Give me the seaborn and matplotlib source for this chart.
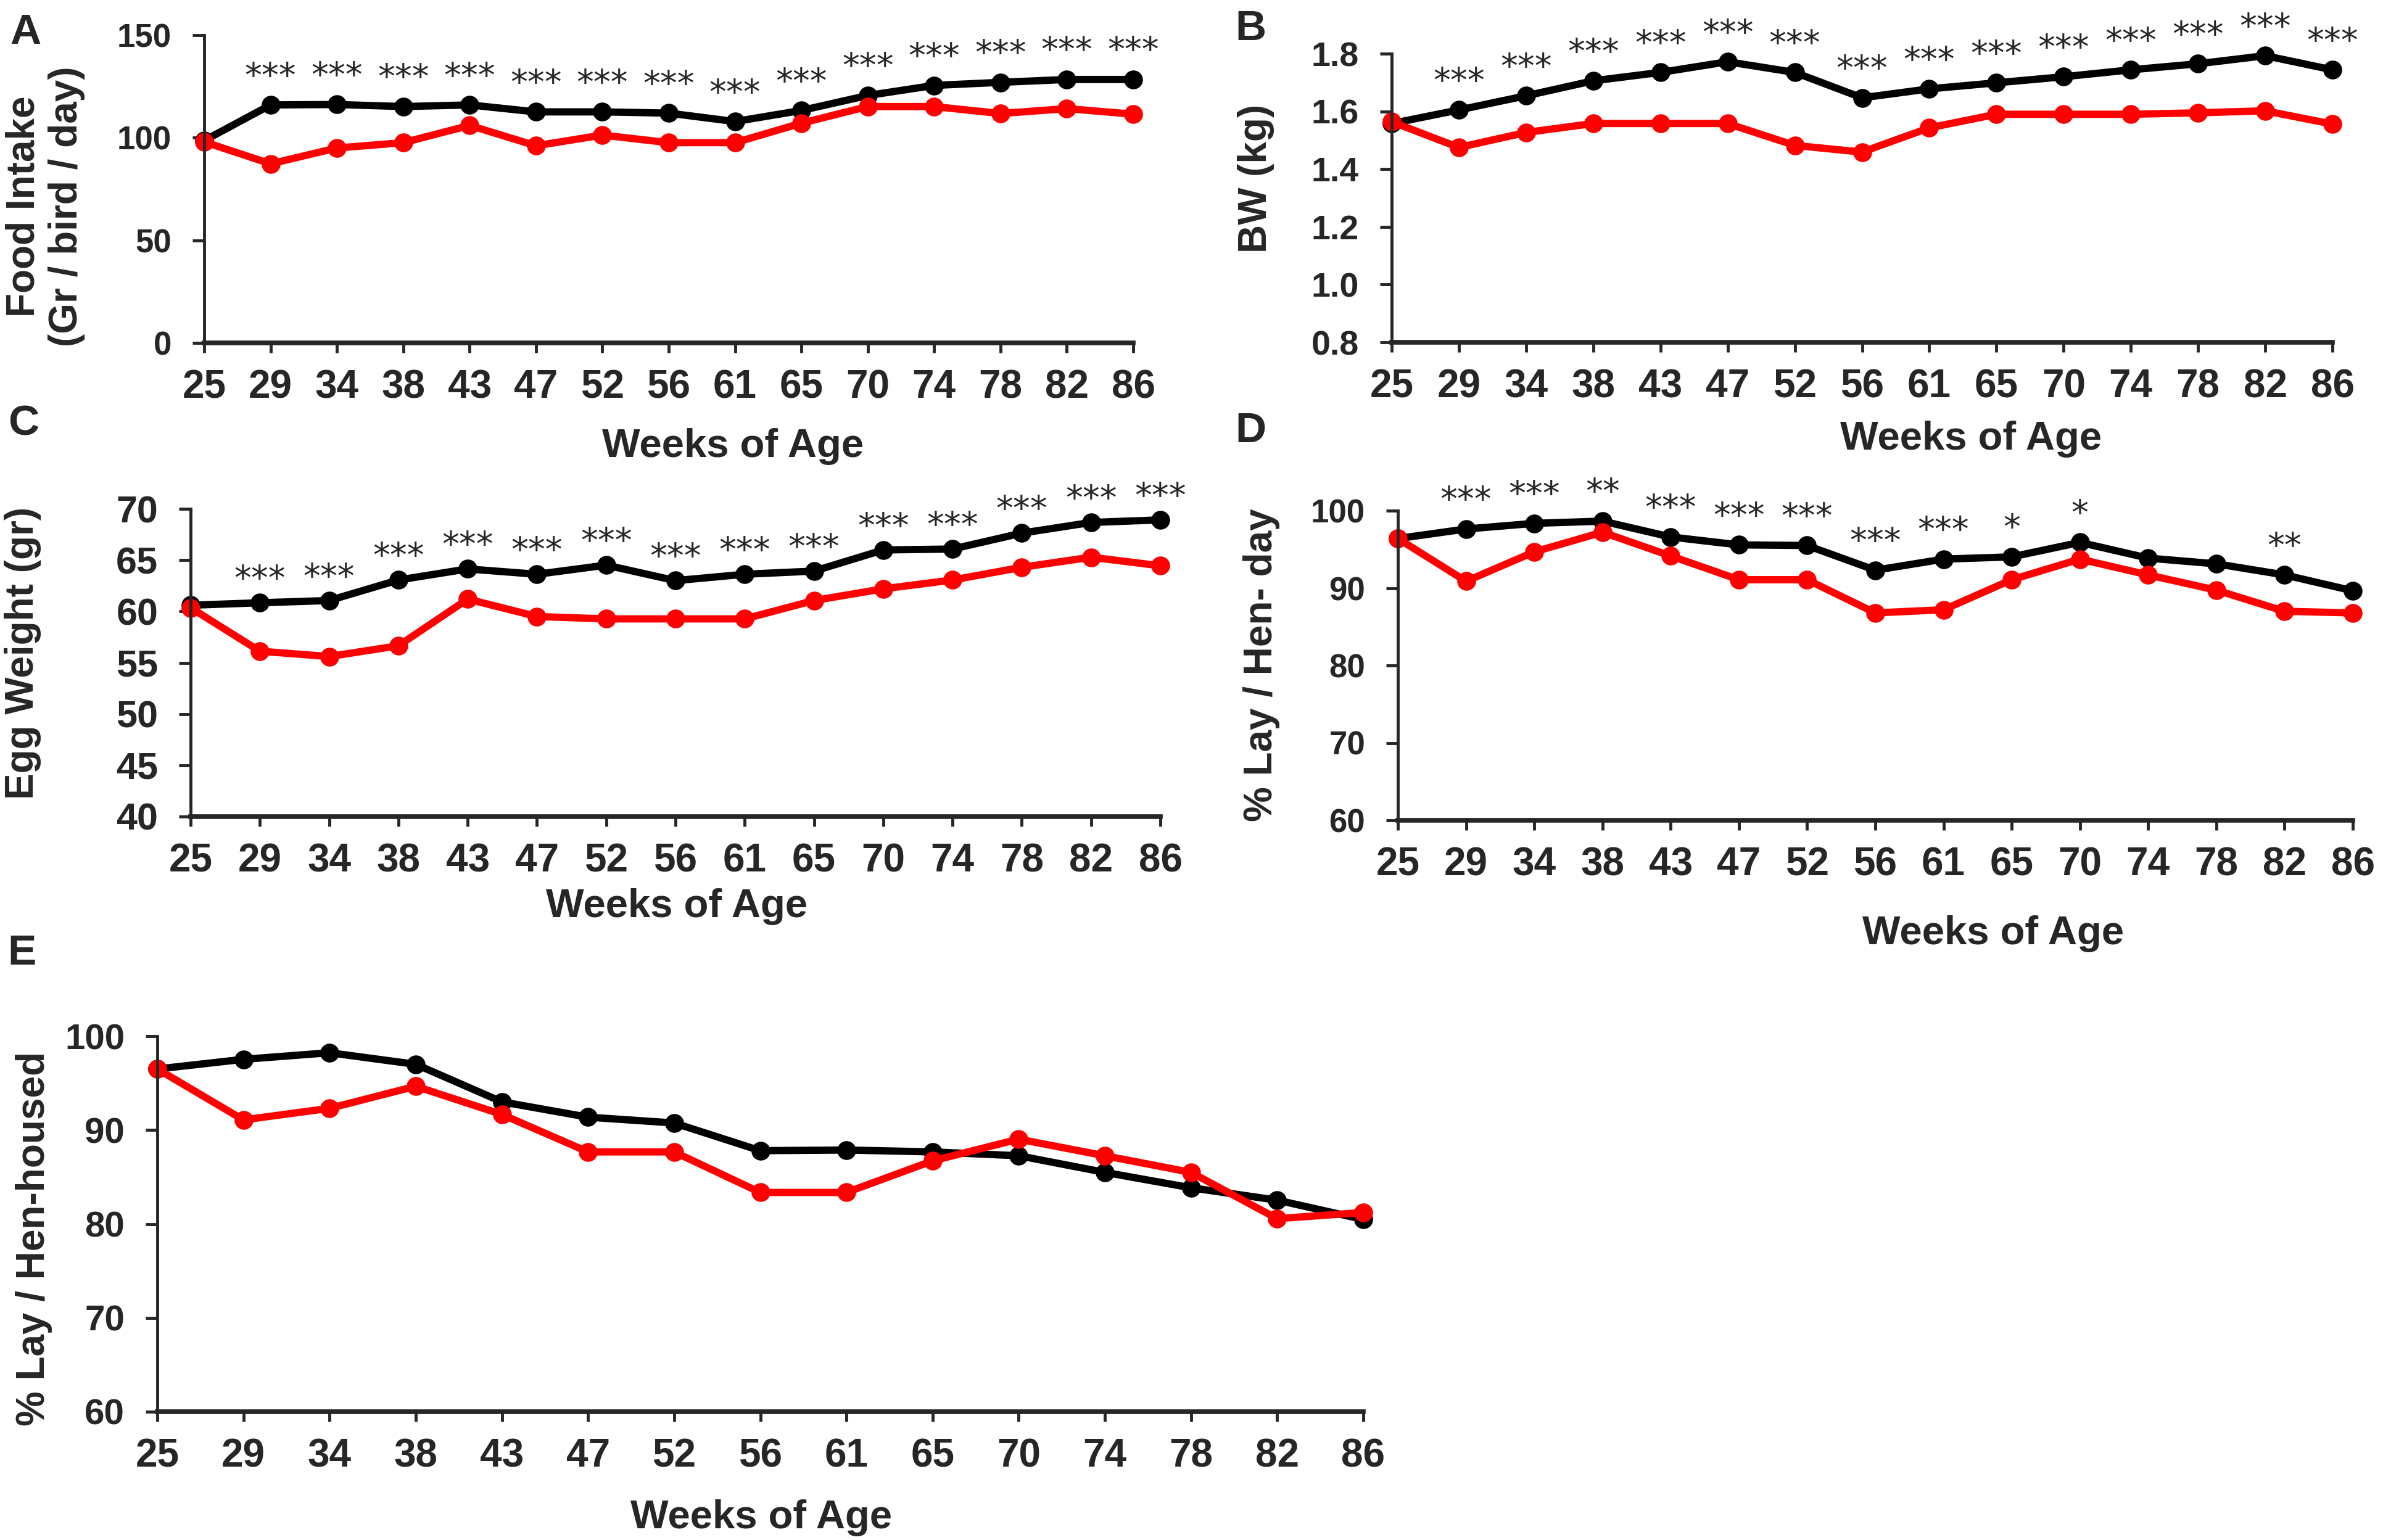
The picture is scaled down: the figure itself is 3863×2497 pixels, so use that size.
import matplotlib
matplotlib.use("Agg")
import numpy as np
import pandas as pd
import matplotlib.pyplot as plt
import seaborn as sns
from matplotlib.ticker import FormatStrFormatter

# Data
weeks = ["25", "29", "34", "38", "43", "47", "52", "56", "61", "65", "70", "74", "78", "82", "86"]

food_ctrl = [98.6, 116.0, 116.2, 115.2, 116.0, 112.6, 112.6, 112.0, 107.9, 113.3, 120.6, 125.5, 127.0, 128.4, 128.4]
food_trt = [98.0, 87.3, 95.0, 97.6, 106.0, 96.1, 101.3, 97.6, 97.6, 107.1, 115.2, 115.2, 111.8, 114.2, 111.5]

bw_ctrl = [1.558, 1.605, 1.654, 1.706, 1.735, 1.772, 1.735, 1.647, 1.678, 1.699, 1.720, 1.744, 1.765, 1.793, 1.744]
bw_trt = [1.564, 1.475, 1.527, 1.558, 1.558, 1.558, 1.482, 1.459, 1.543, 1.590, 1.590, 1.590, 1.595, 1.602, 1.556]

egg_ctrl = [60.6, 60.84, 61.06, 63.06, 64.14, 63.62, 64.51, 63.0, 63.62, 63.93, 65.99, 66.08, 67.63, 68.67, 68.92]
egg_trt = [60.35, 56.12, 55.6, 56.65, 61.2, 59.5, 59.27, 59.27, 59.27, 61.06, 62.2, 63.06, 64.3, 65.28, 64.45]

henday_ctrl = [96.4, 97.63, 98.36, 98.65, 96.6, 95.58, 95.5, 92.31, 93.74, 94.03, 95.9, 93.87, 93.13, 91.7, 89.65]
henday_trt = [96.4, 90.88, 94.68, 97.22, 94.15, 91.08, 91.08, 86.79, 87.2, 91.08, 93.74, 91.7, 89.73, 87.0, 86.79]

henhoused_ctrl = [96.5, 97.53, 98.23, 97.0, 93.0, 91.37, 90.75, 87.8, 87.87, 87.67, 87.26, 85.49, 83.85, 82.53, 80.48]
henhoused_trt = [96.5, 91.08, 92.31, 94.66, 91.66, 87.67, 87.67, 83.35, 83.35, 86.72, 89.03, 87.26, 85.49, 80.56, 81.22]

stars_all = [""] + ["***"] * 14
stars_henday = ["", "***", "***", "**", "***", "***", "***", "***", "***", "*", "*", "", "", "**", ""]
stars_none = [""] * 15

W, H = 3863, 2497
sns.set_style("ticks")
plt.rcParams["font.family"] = ["Liberation Sans", "DejaVu Sans"]
plt.rcParams["font.weight"] = "bold"

fig = plt.figure(figsize=(W / 100, H / 100), dpi=100)


def rect(left, top, right, bottom):
    return [left / W, 1 - bottom / H, (right - left) / W, (bottom - top) / H]


def ftext(x, y, s, **kw):
    fig.text(x / W, 1 - y / H, s, ha="center", va="center", fontweight="bold", **kw)


def panel(box, ctrl, trt, ylim, yticks, stars, ytick_size, fmt=None, star_off=32):
    ax = fig.add_axes(rect(*box))
    df = pd.DataFrame({
        "pos": list(range(len(weeks))) * 2,
        "value": ctrl + trt,
        "group": ["control"] * len(weeks) + ["treated"] * len(weeks),
    })
    sns.lineplot(data=df, x="pos", y="value", hue="group",
                 palette={"control": "black", "treated": "#ff0000"},
                 marker="o", markersize=22, markeredgewidth=0, linewidth=8.5,
                 legend=False, errorbar=None, clip_on=False, ax=ax)
    for i, s in enumerate(stars):
        if s:
            ax.annotate(s, (i, ctrl[i]), xytext=(0, star_off), textcoords="offset points",
                        ha="center", va="center", fontsize=40,
                        family="DejaVu Sans", fontweight="normal")
    ax.set_xlim(0, len(weeks) - 1)
    ax.set_xticks(range(len(weeks)))
    ax.set_xticklabels(weeks)
    ax.set_ylim(*ylim)
    ax.set_yticks(yticks)
    if fmt:
        ax.yaxis.set_major_formatter(FormatStrFormatter(fmt))
    ax.set(xlabel="", ylabel="")
    sns.despine(ax=ax)
    ax.spines["bottom"].set_linewidth(5.5)
    ax.spines["left"].set_linewidth(3.5)
    ax.tick_params(axis="x", length=11.5, width=3.5, pad=19, labelsize=46)
    ax.tick_params(axis="y", length=14, width=3.5, pad=24, labelsize=ytick_size)
    return ax


panel((331, 57, 1837, 556), food_ctrl, food_trt, (0, 150), [0, 50, 100, 150], stars_all, 38)
panel((2256, 87, 3781, 555), bw_ctrl, bw_trt, (0.8, 1.8), np.arange(0.8, 1.81, 0.2), stars_all, 40, fmt="%.1f")
panel((309, 825, 1881, 1324), egg_ctrl, egg_trt, (40, 70), range(40, 71, 5), stars_all, 44, star_off=26)
panel((2266, 828, 3814, 1330), henday_ctrl, henday_trt, (60, 100), range(60, 101, 10), stars_henday, 38)
panel((255, 1680, 2210, 2289), henhoused_ctrl, henhoused_trt, (60, 100), range(60, 101, 10), stars_none, 42)

# y-axis titles
ftext(73, 335, "Food Intake\n(Gr / bird / day)", rotation=90, fontsize=46)
ftext(2036, 289, "BW (kg)", rotation=90, fontsize=46)
ftext(37, 1059, "Egg Weight (gr)", rotation=90, fontsize=46)
ftext(2045, 1078, "% Lay / Hen- day", rotation=90, fontsize=46)
ftext(55, 2008, "% Lay / Hen-housed", rotation=90, fontsize=46)

# x-axis titles
for x, y in [(1188, 724), (3195, 712), (1097, 1470), (3231, 1514), (1234, 2461)]:
    ftext(x, y, "Weeks of Age", fontsize=47)

# panel letters
for x, y, s in [(41, 53, "A"), (2027, 47, "B"), (38, 688, "C"), (2027, 699, "D"), (36, 1546, "E")]:
    ftext(x, y, s, fontsize=50)

fig.savefig("out.png", dpi=100)
